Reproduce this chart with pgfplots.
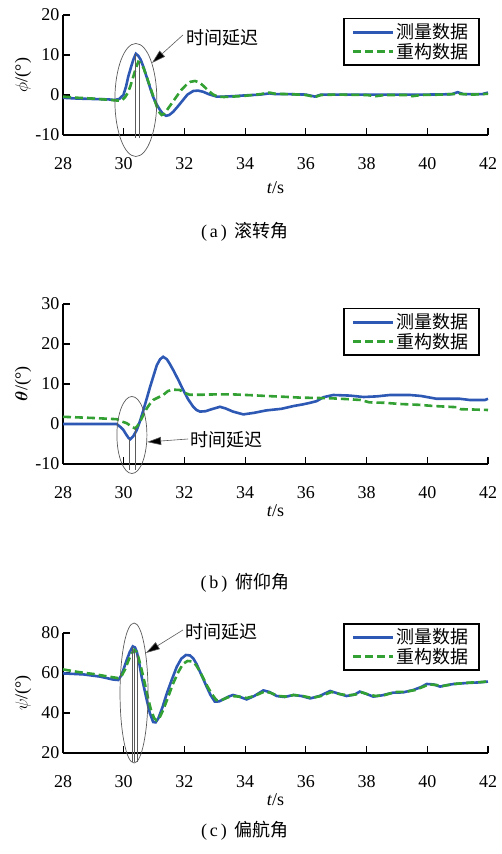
\documentclass[border=0pt]{standalone}
\usepackage{amsmath}
\usepackage{bm}
\usepackage{fontspec}
\setmainfont{Liberation Serif}
\newfontfamily\cjk{Noto Sans CJK SC}
\usepackage{pgfplots}
\pgfplotsset{compat=1.18}
\usetikzlibrary{arrows.meta}
\definecolor{myblue}{RGB}{45,88,180}
\definecolor{mygreen}{RGB}{50,160,50}
\definecolor{anngray}{RGB}{90,90,90}
\pgfplotsset{
 meas/.style={myblue, line width=2.6pt},
 recon/.style={mygreen, line width=2.6pt, dash pattern=on 8pt off 4pt},
 base/.style={
  scale only axis, width=425pt, xmin=28, xmax=42, xtick={28,30,...,42},
  axis x line*=bottom, axis y line*=left,
  axis line style={line width=1.4pt,-},
  tick align=inside, major tick length=7pt,
  every tick/.style={black,line width=1.2pt},
  tick label style={font=\fontsize{18}{20}\selectfont},
  label style={font=\fontsize{18}{20}\selectfont},
  /pgf/number format/assume math mode=true,
  xticklabel style={yshift=-19pt},
  xlabel={\textit{t}/s},
  ylabel style={at={(axis description cs:-0.094,0.5)}, anchor=center},
  clip=false,
  legend style={at={(0.98,0.975)}, anchor=north east, draw=black, line width=1.5pt, font=\fontsize{18}{20}\selectfont\cjk, legend cell align=left, inner xsep=8pt, inner ysep=3pt, row sep=-1pt},
  legend image code/.code={\draw[##1, line width=3pt] (0pt,0pt) -- (40pt,0pt);},
 }
}
\begin{document}
\begin{tikzpicture}[x=1pt,y=1pt]
\useasboundingbox (0,0) rectangle (501,854);

% ---------------- (a) roll ----------------
\begin{axis}[base, at={(63pt,719pt)}, anchor=south west, height=120pt,
  ymin=-10, ymax=20, ytick={-10,0,10,20},
  xlabel style={at={(axis description cs:0.5,-0.44)}, anchor=center},
  ylabel={$\phi$/(°)}]
\addplot[meas] coordinates {(28,-0.7) (28.5,-0.9) (29,-1.0) (29.5,-1.1) (29.7,-1.25) (29.85,-1.0) (29.99,0) (30.08,2.2) (30.15,4.6) (30.25,7.2) (30.32,8.9) (30.4,10.3) (30.48,9.8) (30.56,8.8) (30.66,6.8) (30.76,4.4) (30.87,1.8) (30.97,-0.5) (31.08,-2.3) (31.2,-3.8) (31.3,-4.8) (31.4,-5.2) (31.5,-5.0) (31.63,-4.2) (31.8,-2.7) (31.96,-1.2) (32.1,0.1) (32.29,1.0) (32.45,1.1) (32.62,0.8) (32.8,0.2) (33.06,-0.4) (33.3,-0.4) (33.6,-0.3) (34,-0.1) (34.5,0.1) (34.8,0.4) (35.0,0.2) (35.5,0.2) (36,0.1) (36.3,-0.4) (36.5,0.1) (37,0.1) (38,0.1) (39,0.1) (40,0.1) (40.8,0.2) (41,0.7) (41.2,0.2) (41.8,0.2) (42,0.6)};
\addplot[recon] coordinates {(28,-0.4) (28.5,-0.7) (29,-0.9) (29.5,-1.2) (29.8,-1.4) (29.95,-1.3) (30.05,-0.5) (30.13,0.5) (30.21,2.0) (30.3,4.2) (30.38,6.2) (30.43,7.3) (30.48,8.3) (30.55,8.0) (30.65,6.8) (30.76,4.5) (30.87,2.0) (30.98,-0.5) (31.09,-2.9) (31.18,-4.4) (31.25,-5.0) (31.35,-4.6) (31.45,-3.5) (31.6,-1.9) (31.74,-0.4) (31.9,1.3) (32.07,2.6) (32.2,3.3) (32.35,3.5) (32.5,3.1) (32.65,2.1) (32.8,1.0) (32.95,0.1) (33.1,-0.4) (33.3,-0.5) (33.6,-0.4) (34,-0.2) (34.5,0.2) (34.8,0.6) (35,0.3) (35.5,0.2) (36,0) (36.3,-0.5) (36.5,0) (37,0.1) (38,0) (38.3,-0.3) (38.6,0) (39.3,0) (39.5,-0.3) (39.8,0) (40.5,0.1) (41,0.3) (41.5,0.1) (42,0.3)};
\legend{测量数据,重构数据}
\draw[anngray, line width=0.7pt] (axis cs:30.40,-1.25) ellipse [x radius=21pt, y radius=56.5pt];
\draw[anngray, line width=0.7pt] (axis cs:30.37,10.2) -- (axis cs:30.37,-10.75);
\draw[anngray, line width=0.7pt] (axis cs:30.50,8.3) -- (axis cs:30.50,-10.75);
\draw[anngray, line width=0.6pt, -{Triangle[length=14pt,width=8pt,fill=black]}] (axis cs:31.95,15) -- (axis cs:30.93,8);
\node[anchor=west, font=\fontsize{18}{20}\selectfont\cjk, inner sep=0pt] at (axis cs:32.06,14.3) {时间延迟};
\end{axis}
\node[font=\fontsize{18}{20}\selectfont] at (245,622) {(\,a\,)\hspace{8pt}{\cjk 滚转角}};

% ---------------- (b) pitch ----------------
\begin{axis}[base, at={(63pt,390pt)}, anchor=south west, height=160pt,
  ymin=-10, ymax=30, ytick={-10,0,10,20,30},
  xlabel style={at={(axis description cs:0.5,-0.29)}, anchor=center},
  ylabel={$\bm{\theta}$/(°)}]
\addplot[meas] coordinates {(28,0) (29,0) (29.77,0) (29.9,-0.8) (29.99,-1.5) (30.08,-2.6) (30.16,-3.5) (30.22,-3.8) (30.32,-3.0) (30.43,-1.5) (30.54,0.8) (30.65,3.5) (30.76,6.4) (30.87,9.3) (30.98,12.0) (31.09,14.7) (31.2,16.2) (31.3,16.8) (31.42,16.2) (31.52,15.0) (31.63,13.5) (31.8,11.0) (31.96,8.5) (32.12,6.2) (32.29,4.3) (32.4,3.5) (32.51,3.1) (32.7,3.2) (32.9,3.7) (33.17,4.3) (33.35,3.9) (33.6,3.1) (33.94,2.4) (34.3,2.8) (34.7,3.4) (35.2,3.8) (35.6,4.5) (35.9,4.9) (36.14,5.3) (36.35,5.7) (36.58,6.7) (36.9,7.25) (37.45,7.1) (37.9,6.75) (38.33,6.9) (38.77,7.25) (39.43,7.25) (39.8,7.0) (40.09,6.6) (40.31,6.3) (41.08,6.3) (41.4,6.0) (41.9,6.0) (42,6.3)};
\addplot[recon] coordinates {(28,1.8) (29,1.5) (29.77,1.2) (29.95,0.6) (30.1,0.2) (30.25,-0.6) (30.37,-1.1) (30.45,-0.5) (30.54,0.6) (30.65,2.3) (30.76,3.9) (30.87,5.1) (30.97,6.0) (31.1,6.5) (31.3,7.25) (31.45,8.2) (31.6,8.6) (31.85,8.5) (32.0,7.8) (32.18,7.3) (32.5,7.3) (33.0,7.4) (33.6,7.4) (34.2,7.2) (34.7,7.0) (35.3,6.8) (35.8,6.6) (36.4,6.5) (36.9,6.4) (37.4,6.2) (37.8,6.0) (38.1,5.4) (38.6,5.3) (39.1,5.0) (39.7,4.8) (40.2,4.5) (40.97,4.2) (41.1,3.7) (41.6,3.6) (42,3.5)};
\legend{测量数据,重构数据}
\draw[anngray, line width=0.7pt] (axis cs:30.27,-2.75) ellipse [x radius=15pt, y radius=38.5pt];
\draw[anngray, line width=0.7pt] (axis cs:30.20,-3.7) -- (axis cs:30.20,-11.5);
\draw[anngray, line width=0.7pt] (axis cs:30.37,-1.0) -- (axis cs:30.37,-11.5);
\draw[anngray, line width=0.6pt, -{Triangle[length=14pt,width=8pt,fill=black]}] (axis cs:32.12,-3.75) -- (axis cs:30.77,-4.5);
\node[anchor=west, font=\fontsize{18}{20}\selectfont\cjk, inner sep=0pt] at (axis cs:32.18,-4.0) {时间延迟};
\end{axis}
\node[font=\fontsize{18}{20}\selectfont] at (245,271) {(\,b\,)\hspace{8pt}{\cjk 俯仰角}};

% ---------------- (c) yaw ----------------
\begin{axis}[base, at={(63pt,101pt)}, anchor=south west, height=120pt,
  ymin=20, ymax=80, ytick={20,40,60,80},
  legend style={at={(0.98,1.083)}},
  xlabel style={at={(axis description cs:0.5,-0.39)}, anchor=center},
  ylabel={$\psi$/(°)}]
\addplot[meas] coordinates {(28,59.8) (28.67,59.3) (29.22,58.2) (29.66,56.7) (29.82,56.5) (29.93,59) (30.02,63) (30.1,66.5) (30.2,70.5) (30.3,73.3) (30.37,72.8) (30.43,70.7) (30.51,65) (30.59,58.2) (30.68,52) (30.76,46.5) (30.86,40) (30.97,35.5) (31.05,35.3) (31.14,37.3) (31.28,43) (31.42,49.8) (31.58,56.5) (31.75,63.2) (31.9,67.2) (32.05,69) (32.18,68.8) (32.29,67.3) (32.4,64.5) (32.51,60.7) (32.62,57) (32.73,53.2) (32.86,49) (33.0,45.7) (33.14,45.8) (33.28,46.8) (33.45,48.2) (33.6,49) (33.8,48.2) (34.05,46.8) (34.3,48.5) (34.6,51.3) (34.8,50.5) (35.04,48.5) (35.3,48) (35.59,49) (35.85,48.5) (36.14,47.3) (36.45,48.5) (36.8,51) (37.05,49.8) (37.34,48.5) (37.6,49.2) (37.78,50.7) (38.0,49.5) (38.22,48.2) (38.5,48.8) (38.88,50.2) (39.2,50.3) (39.54,51.5) (39.8,53) (39.98,54.5) (40.2,54.3) (40.42,53.2) (40.6,53.8) (40.86,54.5) (41.3,55) (41.7,55.3) (42,55.7)};
\addplot[recon] coordinates {(28,61.8) (28.5,60.5) (29,59.5) (29.5,58.2) (29.8,57.5) (29.93,58.5) (30.05,62) (30.15,66) (30.25,69.5) (30.35,71.5) (30.43,70.5) (30.5,67) (30.6,61) (30.7,54.5) (30.8,47.5) (30.9,41.5) (31.0,37.5) (31.08,36.3) (31.17,37.3) (31.3,41.5) (31.45,47.5) (31.62,54.5) (31.8,60.5) (31.95,64.5) (32.1,66) (32.25,65.8) (32.38,64) (32.5,61) (32.62,57.5) (32.75,53.5) (32.9,49.5) (33.05,46.5) (33.2,46.3) (33.35,47.3) (33.55,48.5) (33.8,48.2) (34.05,47.5) (34.3,48.5) (34.65,50.8) (34.85,50) (35.1,48.5) (35.35,48.2) (35.6,49) (35.9,48.5) (36.2,47.5) (36.5,48.5) (36.85,50.5) (37.1,49.5) (37.4,48.8) (37.65,49.3) (37.85,50.3) (38.05,49.3) (38.3,48.5) (38.6,49) (38.95,50.5) (39.3,50.6) (39.6,51.5) (39.85,53) (40.05,54.3) (40.3,54) (40.5,53.5) (40.7,54) (40.95,54.6) (41.4,55.2) (41.8,55.5) (42,55.8)};
\legend{测量数据,重构数据}
\draw[anngray, line width=0.7pt] (axis cs:30.34,50) ellipse [x radius=14pt, y radius=70pt];
\draw[anngray, line width=0.7pt] (axis cs:30.28,73.0) -- (axis cs:30.28,15.5);
\draw[anngray, line width=0.7pt] (axis cs:30.35,71.5) -- (axis cs:30.35,15.5);
\draw[anngray, line width=0.7pt] (axis cs:30.45,69.5) -- (axis cs:30.45,15.5);
\draw[anngray, line width=0.6pt, -{Triangle[length=14pt,width=8pt,fill=black]}] (axis cs:31.95,81.5) -- (axis cs:30.73,70);
\node[anchor=west, font=\fontsize{18}{20}\selectfont\cjk, inner sep=0pt] at (axis cs:32.02,80.5) {时间延迟};
\end{axis}
\node[font=\fontsize{18}{20}\selectfont] at (245,23) {(\,c\,)\hspace{8pt}{\cjk 偏航角}};
\end{tikzpicture}
\end{document}
